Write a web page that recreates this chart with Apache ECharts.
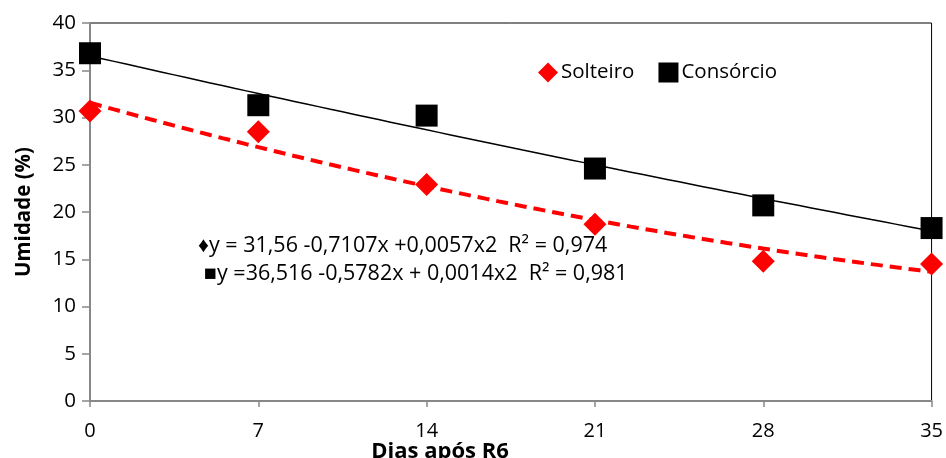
<!DOCTYPE html>
<html><head><meta charset="utf-8">
<script src="https://cdn.jsdelivr.net/npm/echarts@6/dist/echarts.min.js"></script>
<style>html,body{margin:0;padding:0;background:#fff}#c{width:946px;height:458px}</style>
</head><body><div id="c"></div>
<script>
const days = [0, 7, 14, 21, 28, 35];
const solteiro = [30.7, 28.5, 22.9, 18.7, 14.8, 14.5];
const consorcio = [36.8, 31.3, 30.2, 24.6, 20.7, 18.3];
// trendline coefficients as printed on the chart (a + b x + c x^2)
const coefSolteiro = [31.56, -0.7107, 0.0057];
const coefConsorcio = [36.516, -0.5782, 0.0014];
const eqSolteiro = '\u2666y = 31,56 -0,7107x +0,0057x2  R\u00b2 = 0,974';
const eqConsorcio = '\u25a0y =36,516 -0,5782x + 0,0014x2  R\u00b2 = 0,981';
const xTitle = 'Dias após R6';
const yTitle = 'Umidade (%)';

function trend(coef) {
  const pts = [];
  for (let i = 0; i <= 70; i++) {
    const x = i * 0.5;
    pts.push([x, coef[0] + coef[1] * x + coef[2] * x * x]);
  }
  return pts;
}
const F = '"Open Sans", "Noto Sans", sans-serif';
const N = '"Liberation Sans Narrow", "Open Sans", sans-serif';
const chart = echarts.init(document.getElementById('c'));
chart.setOption({
  animation: false,
  grid: { left: 90, right: 14, top: 23, bottom: 57, show: true, borderColor: '#000', borderWidth: 1 },
  legend: {
    left: 533, top: 57, itemGap: 24, itemWidth: 20, itemHeight: 20,
    textStyle: { fontFamily: F, fontSize: 20.5, color: '#000', padding: [0, 0, 0, -2] },
    data: [
      { name: 'Solteiro', icon: 'diamond', itemStyle: { color: '#ff0000' } },
      { name: 'Consórcio', icon: 'rect', itemStyle: { color: '#000' } }
    ]
  },
  xAxis: {
    type: 'value', min: 0, max: 35, interval: 7,
    axisLine: { lineStyle: { color: '#888', width: 2 } },
    axisTick: { show: true, length: 6, lineStyle: { color: '#888', width: 1.5 } },
    axisLabel: { margin: 20, fontFamily: N, fontSize: 20, color: '#000' },
    splitLine: { show: false }
  },
  yAxis: {
    type: 'value', min: 0, max: 40, interval: 5,
    name: yTitle, nameLocation: 'middle', nameGap: 55, nameRotate: 90,
    nameTextStyle: { fontFamily: F, fontWeight: 'bold', fontSize: 20.5, color: '#000' },
    axisLine: { show: true, lineStyle: { color: '#888', width: 2 } },
    axisTick: { show: true, length: 8, lineStyle: { color: '#888', width: 1.5 } },
    axisLabel: { margin: 14, fontFamily: F, fontSize: 20.5, color: '#000' },
    splitLine: { show: false }
  },
  series: [
    { name: 'trendS', type: 'line', data: trend(coefSolteiro), showSymbol: false, symbol: 'none',
      lineStyle: { color: '#ff0000', width: 4, type: [12, 7] }, z: 2, silent: true },
    { name: 'trendC', type: 'line', data: trend(coefConsorcio), showSymbol: false, symbol: 'none',
      lineStyle: { color: '#000', width: 1.5 }, z: 2, silent: true },
    { name: 'Solteiro', type: 'scatter', data: days.map((d, i) => [d, solteiro[i]]),
      symbol: 'diamond', symbolSize: 23, itemStyle: { color: '#ff0000', opacity: 1 }, z: 5 },
    { name: 'Consórcio', type: 'scatter', data: days.map((d, i) => [d, consorcio[i]]),
      symbol: 'rect', symbolSize: 22, itemStyle: { color: '#000', opacity: 1 }, z: 5 }
  ],
  graphic: [
    { type: 'text', left: 198, top: 235, style: { text: eqSolteiro, fontFamily: F, fontSize: 21.5, fill: '#000' } },
    { type: 'text', left: 204, top: 263, style: { text: eqConsorcio, fontFamily: F, fontSize: 21.5, fill: '#000' } },
    { type: 'text', x: 440, y: 463, style: { text: xTitle, fontFamily: N, fontWeight: 'bold', fontSize: 22, fill: '#000', align: 'center', verticalAlign: 'bottom' } }
  ]
});
</script></body></html>
